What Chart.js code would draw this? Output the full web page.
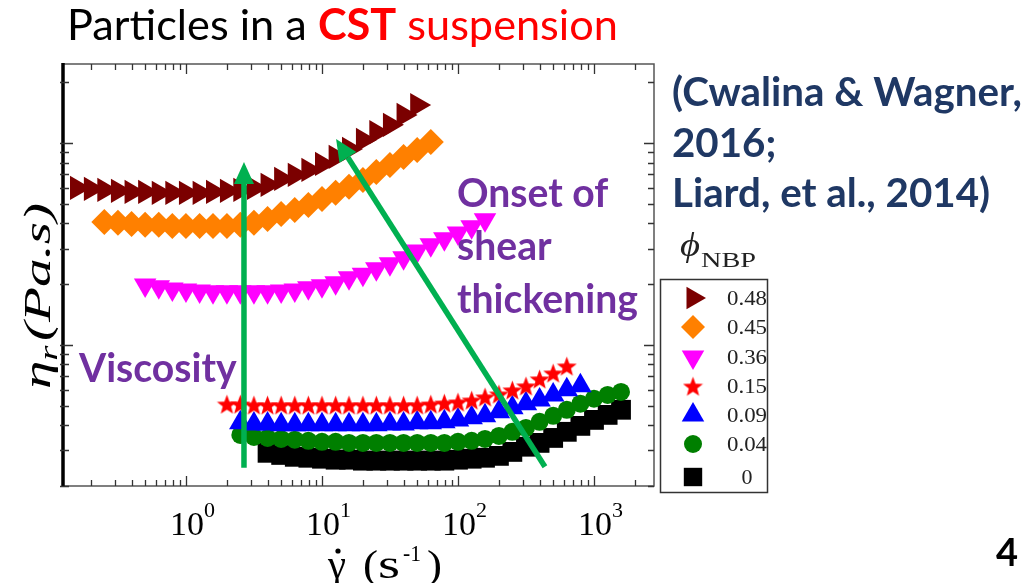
<!DOCTYPE html>
<html>
<head>
<meta charset="utf-8">
<script src="https://cdn.jsdelivr.net/npm/chart.js@4.4.1/dist/chart.umd.min.js"></script>
<style>
html, body { margin: 0; padding: 0; background: #fff; }
</style>
</head>
<body>
<canvas id="viscChart" width="1035" height="583"></canvas>
<script>
// shear rate grid (1/s), ten points per decade
const shearRate = [0.126, 0.158, 0.2, 0.251, 0.316, 0.398, 0.501, 0.631, 0.794,
    1, 1.26, 1.58, 2, 2.51, 3.16, 3.98, 5.01, 6.31, 7.94,
    10, 12.6, 15.8, 20, 25.1, 31.6, 39.8, 50.1, 63.1, 79.4,
    100, 126, 158, 200, 251, 316, 398, 501, 631, 794,
    1000, 1260, 1580, 2000];

const phiLabels = ['0.48', '0.45', '0.36', '0.15', '0.09', '0.04', '0'];
// index in shearRate of the first measured point of each series
const firstPoint = [1, 3, 6, 12, 13, 13, 15];

// relative viscosity
const eta048 = [59.9, 59.2, 58.5, 57.9, 57.2, 57.2, 56.6, 56.6, 56.6, 56.6, 57.2, 57.9, 58.5,
    59.9, 62.0, 66.3, 69.5, 73.5, 78.7, 85.3, 93.4, 103.5, 113, 123, 137.6, 154];
const eta045 = [40.6, 40.2, 39.7, 39.3, 39.3, 38.8, 38.8, 38.8, 38.8, 38.8, 39.3, 40.2, 42.0,
    44.5, 46.6, 49.3, 52.8, 56.6, 60.6, 65.6, 71.8, 77.8, 85.3, 92.3, 101.2];
const eta036 = [19.8, 19.4, 18.9, 18.7, 18.5, 18.3, 18.3, 18.3, 18.3, 18.3, 18.5, 18.7, 19.2,
    19.6, 20.3, 21.5, 22.4, 23.8, 25.2, 27.0, 29.2, 31.3, 33.5, 35.8, 38.4, 41.6];
const eta015 = [5.10, 5.10, 5.05, 5.05, 5.05, 5.05, 5.05, 5.05, 5.05, 5.05, 5.05, 5.05, 5.05,
    5.05, 5.05, 5.10, 5.16, 5.22, 5.34, 5.53, 5.72, 5.99, 6.27, 6.79, 7.27, 7.87];
const eta009 = [4.11, 4.06, 4.06, 4.02, 4.02, 4.02, 4.02, 4.02, 4.02, 4.02, 4.02, 4.06, 4.06,
    4.11, 4.11, 4.16, 4.25, 4.35, 4.45, 4.66, 4.88, 5.11, 5.34, 5.65, 5.99, 6.27];
const eta004 = [3.58, 3.50, 3.46, 3.42, 3.39, 3.35, 3.31, 3.31, 3.27, 3.27, 3.27, 3.27, 3.27,
    3.27, 3.27, 3.27, 3.31, 3.35, 3.42, 3.54, 3.71, 3.88, 4.16, 4.45, 4.77, 5.11, 5.41, 5.65, 5.85];
const eta000 = [2.92, 2.85, 2.79, 2.76, 2.73, 2.70, 2.70, 2.67, 2.67, 2.67, 2.67, 2.67, 2.67,
    2.67, 2.70, 2.73, 2.76, 2.82, 2.95, 3.13, 3.27, 3.46, 3.71, 3.97, 4.25, 4.50, 4.77];
const etaSeries = [eta048, eta045, eta036, eta015, eta009, eta004, eta000];

const xTickValues = [1, 10, 100, 1000];
const xTickExponents = ['0', '1', '2', '3'];

function makeStar(size, color) {
    const c = document.createElement('canvas');
    c.width = size; c.height = size;
    const g = c.getContext('2d');
    g.fillStyle = color;
    g.beginPath();
    for (let i = 0; i < 10; i++) {
        const r = i % 2 ? size * 0.21 : size / 2;
        const a = -Math.PI / 2 + i * Math.PI / 5;
        g.lineTo(size / 2 + r * Math.cos(a), size / 2 + 0.06 * size + r * Math.sin(a));
    }
    g.closePath();
    g.fill();
    return c;
}

const markers = [
    { color: '#7b0000', style: 'triangle', rotation: 90, radius: 14, legend: 13 },
    { color: '#ff8000', style: 'rectRot', rotation: 0, radius: 13, legend: 12 },
    { color: '#ff00ff', style: 'triangle', rotation: 180, radius: 13, legend: 13 },
    { color: '#ff0000', style: makeStar(21, '#ff0000'), rotation: 0, radius: 10, legend: 10 },
    { color: '#0000ff', style: 'triangle', rotation: 0, radius: 13, legend: 13 },
    { color: '#007f00', style: 'circle', rotation: 0, radius: 9, legend: 9 },
    { color: '#000000', style: 'rect', rotation: 0, radius: 14, legend: 13 }
];
const legendStar = makeStar(21, '#ff0000');

const greenArrows = [
    { from: [2.67, 2.46], to: [2.67, 80.5] },
    { from: [436, 2.49], to: [12.7, 104.7] }
];

function fontFor(ctx, text, weight, family, width) {
    ctx.font = weight + ' 100px ' + family;
    return 100 * width / ctx.measureText(text).width;
}

// draw text with a given font, stretched horizontally to a target width
function stretchText(ctx, text, font, x, y, width, align) {
    ctx.font = font;
    const w = ctx.measureText(text).width;
    const left = align === 'center' ? x - width / 2 : x;
    ctx.save();
    ctx.translate(left, y);
    ctx.scale(width / w, 1);
    ctx.textAlign = 'left';
    ctx.fillText(text, 0, 0);
    ctx.restore();
}

const overlay = {
    id: 'overlay',
    beforeDatasetsDraw(chart) {
        const { ctx, chartArea: a, scales: { x, y } } = chart;
        ctx.save();
        ctx.strokeStyle = '#555';
        ctx.lineWidth = 1.5;
        ctx.strokeRect(a.left, a.top, a.right - a.left, a.bottom - a.top);
        ctx.strokeStyle = '#000';
        ctx.lineWidth = 3.5;
        ctx.beginPath();
        ctx.moveTo(a.left, a.top - 1);
        ctx.lineTo(a.left, a.bottom + 1);
        ctx.stroke();
        // inward ticks on all sides
        ctx.lineWidth = 1.3;
        ctx.strokeStyle = '#333';
        ctx.beginPath();
        for (let e = -1; e <= 3; e++) {
            for (let m = 1; m <= 9; m++) {
                const v = m * Math.pow(10, e);
                const len = m === 1 ? 10 : 6;
                if (v >= x.min && v <= x.max) {
                    const p = Math.round(x.getPixelForValue(v)) + 0.5;
                    ctx.moveTo(p, a.bottom); ctx.lineTo(p, a.bottom - len);
                    ctx.moveTo(p, a.top); ctx.lineTo(p, a.top + len);
                }
                if (v >= y.min && v <= y.max) {
                    const p = Math.round(y.getPixelForValue(v)) + 0.5;
                    ctx.moveTo(a.left - 3, p); ctx.lineTo(a.left + len, p);
                    ctx.moveTo(a.right, p); ctx.lineTo(a.right - len, p);
                }
            }
        }
        ctx.stroke();
        ctx.restore();
    },
    afterDatasetsDraw(chart) {
        const { ctx, scales: { x, y } } = chart;
        ctx.save();
        ctx.strokeStyle = '#00b050';
        ctx.fillStyle = '#00b050';
        ctx.lineWidth = 5.5;
        greenArrows.forEach(ar => {
            const x0 = x.getPixelForValue(ar.from[0]), y0 = y.getPixelForValue(ar.from[1]);
            const x1 = x.getPixelForValue(ar.to[0]), y1 = y.getPixelForValue(ar.to[1]);
            const ang = Math.atan2(y1 - y0, x1 - x0);
            const headL = 22, headW = 10;
            const bx = x1 - headL * Math.cos(ang), by = y1 - headL * Math.sin(ang);
            ctx.beginPath();
            ctx.moveTo(x0, y0);
            ctx.lineTo(bx, by);
            ctx.stroke();
            ctx.beginPath();
            ctx.moveTo(x1, y1);
            ctx.lineTo(bx + headW * Math.sin(ang), by - headW * Math.cos(ang));
            ctx.lineTo(bx - headW * Math.sin(ang), by + headW * Math.cos(ang));
            ctx.closePath();
            ctx.fill();
        });
        ctx.restore();
    },
    afterDraw(chart) {
        const { ctx, scales: { x } } = chart;
        const sans = 'Lato, "Open Sans", sans-serif';
        const serif = '"Liberation Serif", "DejaVu Serif", serif';
        ctx.save();
        ctx.textBaseline = 'alphabetic';
        ctx.textAlign = 'left';

        // title
        const t1 = 'Particles in a ', t2 = 'CST', t3 = ' suspension';
        ctx.font = '400 40px ' + sans;
        let w1 = ctx.measureText(t1).width, w3 = ctx.measureText(t3).width;
        ctx.font = '700 40px ' + sans;
        let w2 = ctx.measureText(t2).width;
        const ts = 40 * 551 / (w1 + w2 + w3);
        ctx.font = '400 ' + ts + 'px ' + sans;
        w1 = ctx.measureText(t1).width;
        ctx.fillStyle = '#000';
        ctx.fillText(t1, 67, 40);
        ctx.font = '700 ' + ts + 'px ' + sans;
        w2 = ctx.measureText(t2).width;
        ctx.fillStyle = '#ff0000';
        ctx.fillText(t2, 67 + w1, 40);
        ctx.font = '400 ' + ts + 'px ' + sans;
        ctx.fillText(t3, 67 + w1 + w2, 40);

        // citation
        const cs = fontFor(ctx, '(Cwalina & Wagner,', 700, sans, 350);
        ctx.font = '700 ' + cs + 'px ' + sans;
        ctx.fillStyle = '#1f3864';
        ctx.fillText('(Cwalina & Wagner,', 672, 106);
        ctx.fillText('2016;', 672, 157);
        ctx.fillText('Liard, et al., 2014)', 672, 207);

        // purple notes
        const ps = fontFor(ctx, 'thickening', 700, sans, 181);
        ctx.font = '700 ' + ps + 'px ' + sans;
        ctx.fillStyle = '#7030a0';
        ctx.fillText('Onset of', 457, 207);
        ctx.fillText('shear', 457, 260);
        ctx.fillText('thickening', 457, 313);
        ctx.fillText('Viscosity', 79, 382);

        // slide number
        ctx.fillStyle = '#000';
        ctx.font = '700 38px ' + sans;
        ctx.fillText('4', 996, 566);

        // x tick labels
        xTickValues.forEach((v, i) => {
            const p = x.getPixelForValue(v);
            stretchText(ctx, '10', '34px ' + serif, p + 1, 535, 34, 'center');
            stretchText(ctx, xTickExponents[i], '20px ' + serif, p + 18, 517, 11, 'left');
        });

        // x title: gamma-dot (s^-1)
        const big = '40px ' + serif, small = '24px ' + serif;
        const by = 578;
        stretchText(ctx, 'γ', big, 328, by, 18, 'left');
        ctx.beginPath();
        ctx.arc(338, by - 27, 2.6, 0, Math.PI * 2);
        ctx.fill();
        stretchText(ctx, '(', big, 363, by, 15, 'left');
        stretchText(ctx, 's', big, 378, by, 22, 'left');
        stretchText(ctx, '-1', small, 403, by - 17, 18, 'left');
        stretchText(ctx, ')', big, 427, by, 15, 'left');

        // y title: eta_r(Pa.s), rotated
        ctx.save();
        ctx.translate(50, 296);
        ctx.rotate(-Math.PI / 2);
        const yf = 'italic 38px ' + serif, yfs = 'italic 26px ' + serif;
        ctx.font = yf;
        const we = ctx.measureText('η').width, wp = ctx.measureText('(Pa.s)').width;
        ctx.font = yfs;
        const wr = ctx.measureText('r').width;
        const total = we + wr + 3 + wp;
        ctx.scale(186 / total, 1);
        const px = -total / 2;
        ctx.font = yf;
        ctx.fillText('η', px, 0);
        ctx.font = yfs;
        ctx.fillText('r', px + we, 7);
        ctx.font = yf;
        ctx.fillText('(Pa.s)', px + we + wr + 3, 0);
        ctx.restore();

        // legend
        ctx.strokeStyle = '#333';
        ctx.lineWidth = 1.5;
        ctx.strokeRect(660.5, 279.5, 107, 213);
        ctx.fillStyle = '#222';
        stretchText(ctx, 'ϕ', 'italic 34px ' + serif, 680, 256, 20, 'left');
        stretchText(ctx, 'NBP', '21px ' + serif, 701, 267, 55, 'left');
        const rowY = [298, 327, 357, 386, 415, 444, 477];
        phiLabels.forEach((phi, i) => {
            const m = markers[i];
            ctx.fillStyle = m.color;
            ctx.strokeStyle = m.color;
            const style = i === 3 ? legendStar : m.style;
            Chart.helpers.drawPoint(ctx, { pointStyle: style, rotation: m.rotation, radius: m.legend, borderWidth: 0 }, 693, rowY[i]);
            ctx.fillStyle = '#222';
            stretchText(ctx, phi, '20px ' + serif, 747, rowY[i] + 7, phi.length > 1 ? 40 : 11, 'center');
        });
        ctx.restore();
    }
};

new Chart(document.getElementById('viscChart'), {
    type: 'scatter',
    data: {
        datasets: phiLabels.map((phi, s) => ({
            label: phi,
            data: etaSeries[s].map((eta, i) => ({ x: shearRate[firstPoint[s] + i], y: eta })),
            showLine: false,
            pointStyle: markers[s].style,
            pointRotation: markers[s].rotation,
            pointRadius: markers[s].radius,
            pointHoverRadius: markers[s].radius,
            backgroundColor: markers[s].color,
            borderColor: markers[s].color,
            pointBorderWidth: 0,
            clip: false
        }))
    },
    options: {
        responsive: false,
        animation: false,
        layout: { padding: { left: 63, top: 64, right: 381, bottom: 97 } },
        plugins: { legend: { display: false }, tooltip: { enabled: false } },
        scales: {
            x: { type: 'logarithmic', min: 0.1247, max: 2762, display: false },
            y: { type: 'logarithmic', min: 2.0, max: 246, display: false }
        }
    },
    plugins: [overlay]
});
</script>
</body>
</html>
